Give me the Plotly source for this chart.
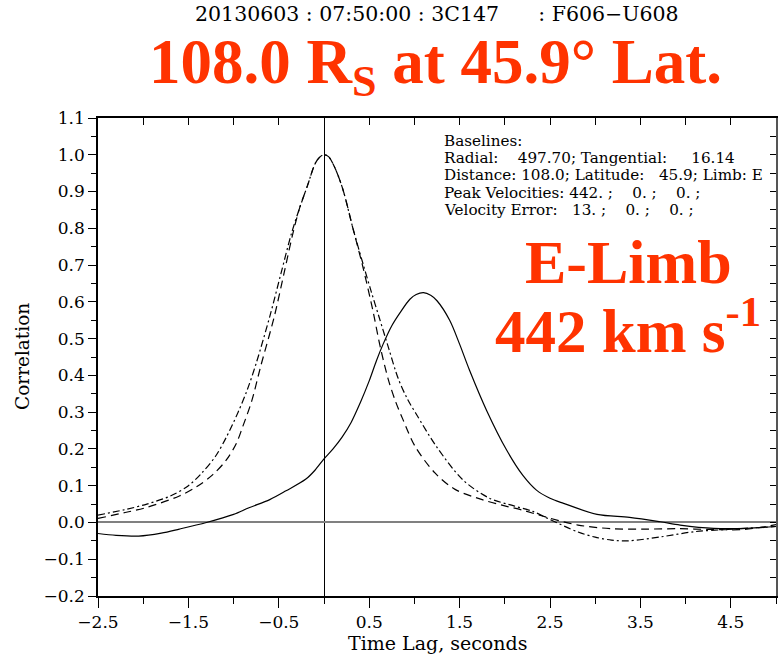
import plotly.graph_objects as go

# ---- data ----
solid_x = [-2.50, -2.30, -2.05, -1.80, -1.60, -1.30, -1.00, -0.83, -0.60, -0.42, -0.20, -0.10, 0.00,
           0.10, 0.20, 0.30, 0.40, 0.50, 0.58, 0.654, 0.75, 0.84, 0.95, 1.02, 1.10, 1.18, 1.25,
           1.39, 1.50, 1.61, 1.80, 2.02, 2.20, 2.35, 2.50, 2.65, 3.02, 3.38, 3.72, 3.94, 4.31,
           4.68, 5.00]
solid_y = [-0.030, -0.035, -0.037, -0.029, -0.018, 0.000, 0.022, 0.040, 0.062, 0.086, 0.118, 0.142, 0.173,
           0.200, 0.232, 0.272, 0.325, 0.385, 0.440, 0.485, 0.535, 0.570, 0.607, 0.620, 0.625, 0.618, 0.603,
           0.550, 0.485, 0.414, 0.304, 0.197, 0.128, 0.088, 0.066, 0.052, 0.022, 0.014, 0.002, -0.007, -0.016,
           -0.016, -0.011]

dash_x = [-2.50, -2.20, -1.96, -1.60, -1.41, -1.23, -1.08, -0.97, -0.90, -0.80, -0.70, -0.55, -0.44,
          -0.35, -0.27, -0.18, -0.10, -0.05, 0.00, 0.05, 0.12, 0.21, 0.32, 0.43, 0.54, 0.62, 0.71, 0.79,
          0.875, 1.01, 1.23, 1.45, 1.75, 2.00, 2.19, 2.45, 2.81, 3.18, 3.55, 3.92, 4.28, 4.65, 5.00]
dash_y = [0.011, 0.027, 0.041, 0.072, 0.097, 0.130, 0.170, 0.215, 0.260, 0.330, 0.425, 0.560, 0.680,
          0.780, 0.855, 0.918, 0.975, 0.993, 1.000, 0.995, 0.965, 0.905, 0.800, 0.695, 0.577, 0.480, 0.390,
          0.330, 0.279, 0.206, 0.134, 0.090, 0.062, 0.045, 0.034, 0.015, -0.007, -0.017, -0.018, -0.017,
          -0.019, -0.019, -0.006]

dashdot_x = [-2.50, -2.20, -1.96, -1.70, -1.50, -1.35, -1.20, -1.08, -0.95, -0.85, -0.75, -0.60, -0.475,
             -0.36, -0.27, -0.18, -0.10, -0.05, 0.00, 0.05, 0.12, 0.21, 0.32, 0.43, 0.52, 0.61, 0.72, 0.82,
             0.92, 1.02, 1.245, 1.54, 1.83, 2.10, 2.31, 2.50, 2.81, 3.00, 3.18, 3.36, 3.73, 4.10, 4.47, 5.00]
dashdot_y = [0.020, 0.035, 0.050, 0.072, 0.100, 0.135, 0.180, 0.232, 0.300, 0.360, 0.433, 0.560, 0.678,
             0.786, 0.855, 0.918, 0.975, 0.993, 1.000, 0.995, 0.965, 0.905, 0.800, 0.705, 0.630, 0.558, 0.470,
             0.392, 0.337, 0.295, 0.206, 0.115, 0.066, 0.045, 0.030, 0.008, -0.026, -0.040, -0.048, -0.050,
             -0.039, -0.025, -0.019, -0.011]

x_ticks = [-2.5, -1.5, -0.5, 0.5, 1.5, 2.5, 3.5, 4.5]
x_tick_labels = ["\u22122.5", "\u22121.5", "\u22120.5", "0.5", "1.5", "2.5", "3.5", "4.5"]

header = "20130603 : 07:50:00 : 3C147&nbsp;&nbsp;&nbsp;&nbsp;&nbsp;&nbsp;: F606\u2212U608"
title_red = "108.0 R<sub>S</sub> at 45.9\u00b0 Lat."
limb_text = "E-Limb"
vel_text = "442 km s<sup>-1</sup>"
box_lines = [
    "Baselines:",
    "Radial:&nbsp;&nbsp;&nbsp;&nbsp;497.70; Tangential:&nbsp;&nbsp;&nbsp;&nbsp;&nbsp;16.14",
    "Distance: 108.0; Latitude:&nbsp;&nbsp;&nbsp;45.9; Limb: E",
    "Peak Velocities: 442. ;&nbsp;&nbsp;&nbsp;&nbsp;0. ;&nbsp;&nbsp;&nbsp;&nbsp;0. ;",
    "Velocity Error:&nbsp;&nbsp;&nbsp;13. ;&nbsp;&nbsp;&nbsp;&nbsp;0. ;&nbsp;&nbsp;&nbsp;&nbsp;0. ;",
]

RED = "#ff3300"
SERIF = "DejaVu Serif"

W, H = 778, 656
L, R, T, B = 98, 2, 118, 60
PW, PH = W - L - R, H - T - B


def px(xp):
    return (xp - L) / PW


def py(yp):
    return (H - B - yp) / PH


fig = go.Figure()
fig.add_trace(go.Scatter(x=dashdot_x, y=dashdot_y, mode="lines",
                         line=dict(color="black", width=1.2, dash="7px,3px,2px,3px", shape="spline", smoothing=0.9),
                         showlegend=False, hoverinfo="skip"))
fig.add_trace(go.Scatter(x=dash_x, y=dash_y, mode="lines",
                         line=dict(color="black", width=1.2, dash="8px,5px", shape="spline", smoothing=0.9),
                         showlegend=False, hoverinfo="skip"))
fig.add_trace(go.Scatter(x=solid_x, y=solid_y, mode="lines",
                         line=dict(color="black", width=1.2, shape="spline", smoothing=0.9),
                         showlegend=False, hoverinfo="skip"))
# invisible trace to activate the mirror axes
fig.add_trace(go.Scatter(x=[None], y=[None], xaxis="x2", yaxis="y2", showlegend=False, hoverinfo="skip"))

tickfont = dict(family=SERIF, size=17, color="black")
fig.update_layout(
    width=W, height=H,
    margin=dict(l=L, r=R, t=T, b=B, pad=0),
    paper_bgcolor="white", plot_bgcolor="white",
    xaxis=dict(range=[-2.5, 5.0], tickmode="array", tickvals=x_ticks, ticktext=x_tick_labels,
               ticks="outside", ticklen=10, tickwidth=1, tickcolor="black",
               minor=dict(tickmode="linear", tick0=-2.5, dtick=0.5, ticks="outside", ticklen=6, tickcolor="black"),
               showline=True, linecolor="black", linewidth=1.5, showgrid=False,
               zeroline=True, zerolinecolor="black", zerolinewidth=1,
               tickfont=tickfont, anchor="y"),
    yaxis=dict(range=[-0.2, 1.1], tickmode="linear", tick0=-0.2, dtick=0.1, tickformat=".1f",
               ticks="outside", ticklen=8, tickwidth=1, tickcolor="black",
               minor=dict(tickmode="linear", tick0=-0.2, dtick=0.05, ticks="outside", ticklen=5, tickcolor="black"),
               showline=True, linecolor="black", linewidth=1.5, showgrid=False,
               zeroline=True, zerolinecolor="#808080", zerolinewidth=2,
               tickfont=tickfont, anchor="x"),
    xaxis2=dict(range=[-2.5, 5.0], overlaying="x", side="top", anchor="y2",
                tickmode="linear", tick0=-2.5, dtick=0.5, ticks="inside", ticklen=7, tickcolor="black",
                showticklabels=False, showline=True, linecolor="black", linewidth=1.5,
                showgrid=False, zeroline=False),
    yaxis2=dict(range=[-0.2, 1.1], overlaying="y", side="right", anchor="x2",
                tickmode="linear", tick0=-0.2, dtick=0.05, ticks="inside", ticklen=6, tickcolor="black",
                showticklabels=False, showline=True, linecolor="#555555", linewidth=2,
                showgrid=False, zeroline=False),
)

ann = []
ann.append(dict(text=header, x=px(437), y=py(14), xref="paper", yref="paper",
                xanchor="center", yanchor="middle", showarrow=False,
                font=dict(family=SERIF, size=20.5, color="black")))
ann.append(dict(text=title_red, x=px(435), y=py(66), xref="paper", yref="paper",
                xanchor="center", yanchor="middle", showarrow=False,
                font=dict(family="Liberation Serif", size=63, color=RED, weight="bold")))
ann.append(dict(text=limb_text, x=px(628), y=py(262), xref="paper", yref="paper",
                xanchor="center", yanchor="middle", showarrow=False,
                font=dict(family="Liberation Serif", size=62, color=RED, weight="bold")))
ann.append(dict(text=vel_text, x=px(628), y=py(326), xref="paper", yref="paper",
                xanchor="center", yanchor="middle", showarrow=False,
                font=dict(family="Liberation Serif", size=61, color=RED, weight="bold")))
for i, line in enumerate(box_lines):
    ann.append(dict(text=line, x=px(442), y=py(141 + 17.2 * i), xref="paper", yref="paper",
                    xanchor="left", yanchor="middle", showarrow=False, align="left",
                    font=dict(family=SERIF, size=15.2, color="black")))
ann.append(dict(text="Correlation", x=px(22), y=py(357), xref="paper", yref="paper",
                xanchor="center", yanchor="middle", showarrow=False, textangle=-90,
                font=dict(family=SERIF, size=18.5, color="black")))
ann.append(dict(text="Time Lag, seconds", x=px(437), y=py(643), xref="paper", yref="paper",
                xanchor="center", yanchor="middle", showarrow=False,
                font=dict(family=SERIF, size=19, color="black")))
fig.update_layout(annotations=ann)

fig.write_html("out.html")
